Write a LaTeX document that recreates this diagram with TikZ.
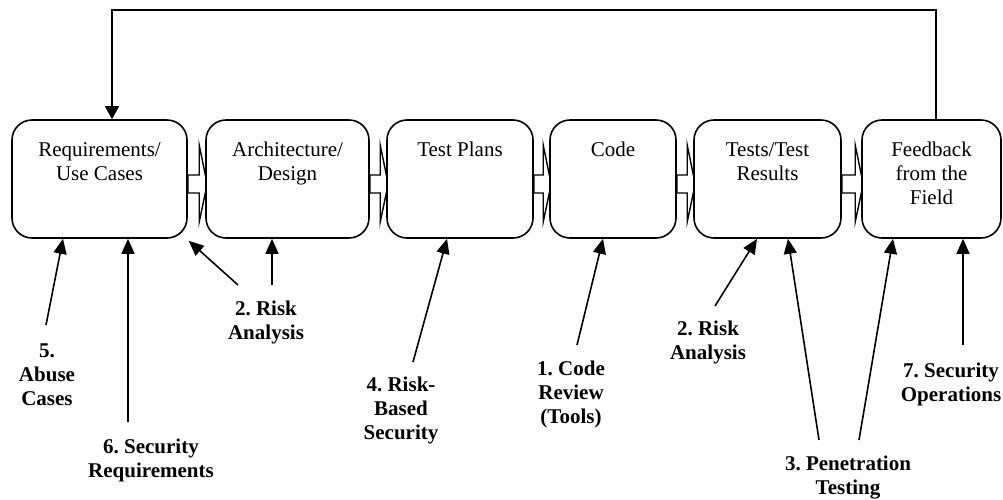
\documentclass[tikz,border=0pt]{standalone}
\usepackage{fontspec}
\setmainfont{Liberation Serif}
\usetikzlibrary{arrows.meta,backgrounds}
\frenchspacing
\newcommand\bxt[2]{\parbox[c][118pt][t]{#1}{\centering\rule{0pt}{36pt}#2\par}}
\tikzset{
  stagebox/.style={draw, line width=1.6pt, rounded corners=20pt, fill=white, inner sep=0pt,
    minimum height=118pt, font=\fontsize{21}{24}\selectfont},
  blkarrow/.style={draw, line width=1.4pt, fill=white, line join=miter},
  fbline/.style={line width=1.5pt, -{Triangle[length=13pt,width=14pt]}},
  inarrow/.style={line width=1.6pt, -{Triangle[length=15pt,width=13pt]}},
  practice/.style={anchor=north, align=center, inner sep=0pt, font=\fontsize{21}{24}\selectfont\bfseries\frenchspacing}
}
\newcommand\blockarrow[2]{%
  \draw[blkarrow] ([yshift=4pt]#1.east) -- ([xshift=-6pt,yshift=4pt]#2.west)
    -- ([xshift=-6pt,yshift=34pt]#2.west) -- ([xshift=2pt,yshift=-5pt]#2.west)
    -- ([xshift=-6pt,yshift=-43pt]#2.west) -- ([xshift=-6pt,yshift=-14pt]#2.west)
    -- ([yshift=-14pt]#1.east) -- cycle;}
\begin{document}
\begin{tikzpicture}[x=1pt,y=-1pt]
\useasboundingbox (0,0) rectangle (1003,499);

% stage boxes
\node[stagebox, minimum width=175pt] (b1) at (99.5,179) {\bxt{170pt}{Requirements/\\Use Cases}};
\node[stagebox, minimum width=163pt] (b2) at (287.5,179) {\bxt{158pt}{Architecture/\\Design}};
\node[stagebox, minimum width=146pt] (b3) at (460,179) {\bxt{141pt}{Test Plans}};
\node[stagebox, minimum width=126pt] (b4) at (613,179) {\bxt{121pt}{Code}};
\node[stagebox, minimum width=147pt] (b5) at (767.5,179) {\bxt{142pt}{Tests/Test\\Results}};
\node[stagebox, minimum width=139pt] (b6) at (931.5,179) {\bxt{134pt}{Feedback\\from the\\Field}};

% block arrows between stages (behind the boxes)
\begin{pgfonlayer}{background}
\blockarrow{b1}{b2}
\blockarrow{b2}{b3}
\blockarrow{b3}{b4}
\blockarrow{b4}{b5}
\blockarrow{b5}{b6}
\end{pgfonlayer}

% feedback loop
\coordinate (fbtop) at (500,10);
\draw[fbline] ([xshift=4.5pt]b6.north) |- (fbtop) -| ([xshift=12.5pt]b1.north);

% touchpoint labels
\node[practice] (abuse) at (47,343.5) {5.\\Abuse\\Cases};
\node[practice] (secreq) at (151,438.5) {6. Security\\Requirements};
\node[practice] (riskL) at (266,300.5) {2. Risk\\Analysis};
\node[practice] (riskbased) at (401,376.5) {4. Risk-\\Based\\Security};
\node[practice] (codereview) at (571,360.5) {1. Code\\Review\\(Tools)};
\node[practice] (riskR) at (708,320.5) {2. Risk\\Analysis};
\node[practice] (pentest) at (848,455.5) {3. Penetration\\Testing};
\node[practice] (secops) at (951,362.5) {7. Security\\Operations};

% arrow tails
\coordinate (tAbuse) at (46,325);
\coordinate (tSecReq) at (128,422);
\coordinate (tRiskL1) at (238,285);
\coordinate (tRiskL2) at (272,285);
\coordinate (tRiskBased) at (413,362);
\coordinate (tCode) at (577,345);
\coordinate (tRiskR) at (715,306);
\coordinate (tPen1) at (819,440);
\coordinate (tPen2) at (859,440);
\coordinate (tSecOps) at (963,345);

% touchpoint arrows
\draw[inarrow] (tAbuse) -- ([xshift=-36.5pt]b1.south);
\draw[inarrow] (tSecReq) -- ([xshift=28.5pt]b1.south);
\draw[inarrow] (tRiskL1) -- ([xshift=1pt,yshift=-2pt]b1.south east);
\draw[inarrow] (tRiskL2) -- ([xshift=-15.5pt]b2.south);
\draw[inarrow] (tRiskBased) -- ([xshift=-13pt]b3.south);
\draw[inarrow] (tCode) -- ([xshift=-10pt]b4.south);
\draw[inarrow] (tRiskR) -- ([xshift=-10.5pt]b5.south);
\draw[inarrow] (tPen1) -- ([xshift=20.5pt]b5.south);
\draw[inarrow] (tPen2) -- ([xshift=-38.5pt]b6.south);
\draw[inarrow] (tSecOps) -- ([xshift=31.5pt]b6.south);
\end{tikzpicture}
\end{document}
